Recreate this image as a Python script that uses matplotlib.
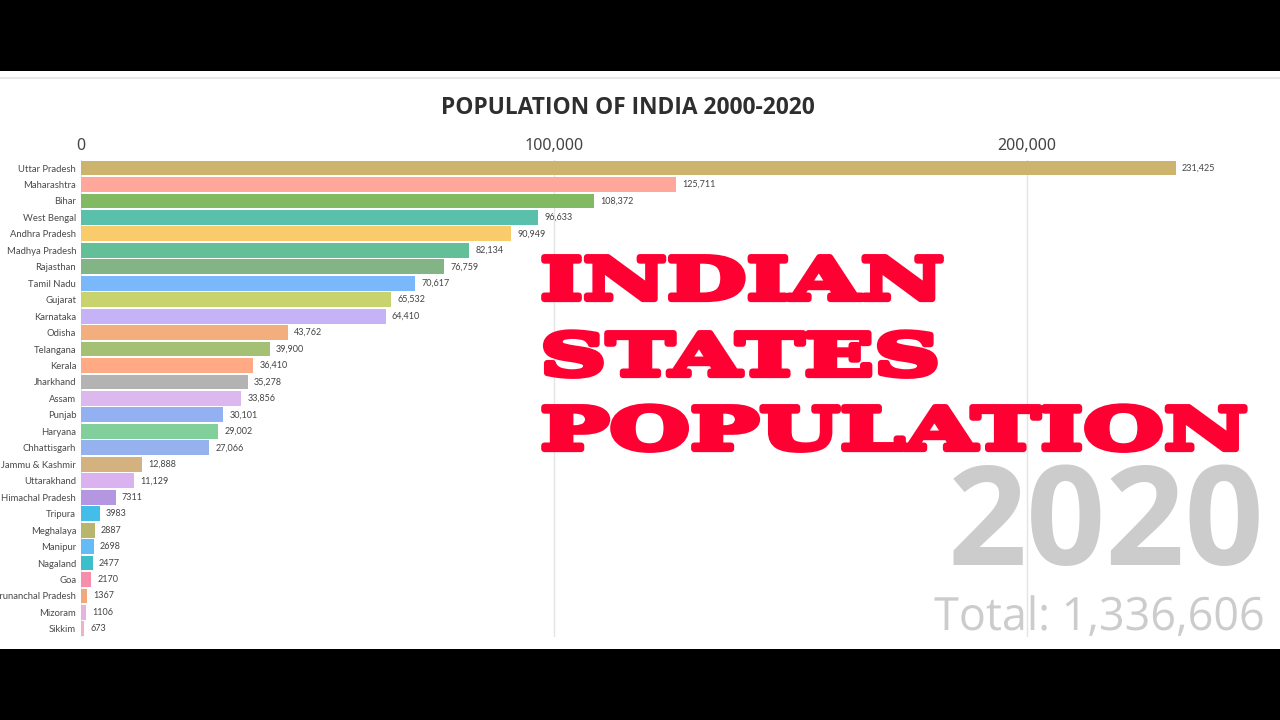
import matplotlib
matplotlib.use("Agg")
import matplotlib.pyplot as plt
import matplotlib.patheffects as pe
from matplotlib.transforms import Affine2D

states = [
    "Uttar Pradesh", "Maharashtra", "Bihar", "West Bengal", "Andhra Pradesh",
    "Madhya Pradesh", "Rajasthan", "Tamil Nadu", "Gujarat", "Karnataka",
    "Odisha", "Telangana", "Kerala", "Jharkhand", "Assam",
    "Punjab", "Haryana", "Chhattisgarh", "Jammu & Kashmir", "Uttarakhand",
    "Himachal Pradesh", "Tripura", "Meghalaya", "Manipur", "Nagaland",
    "Goa", "Arunanchal Pradesh", "Mizoram", "Sikkim",
]
population = [
    231425, 125711, 108372, 96633, 90949,
    82134, 76759, 70617, 65532, 64410,
    43762, 39900, 36410, 35278, 33856,
    30101, 29002, 27066, 12888, 11129,
    7311, 3983, 2887, 2698, 2477,
    2170, 1367, 1106, 673,
]
colors = [
    "#cdb46e", "#ffa79b", "#82ba63", "#58c0ab", "#f9cb6b",
    "#62bf98", "#83b485", "#7bb8fb", "#c9d36e", "#c6b2f6",
    "#f2ae7c", "#a3c074", "#ffa985", "#b3b3b3", "#dcb8ef",
    "#93b1f2", "#81d09c", "#96b2ee", "#d4b280", "#d9b2ef",
    "#b497e0", "#43bee8", "#b8b56c", "#64bcf6", "#3cbfca",
    "#f78fac", "#f3a77c", "#e6b3e0", "#efb0c9",
]
ticks = [0, 100000, 200000]
tick_labels = ["0", "100,000", "200,000"]


class Stretch(pe.AbstractPathEffect):
    # widens drawn text around x0 (pixels), optionally with an outline
    def __init__(self, sx, x0, stroke=0, color=None):
        super().__init__()
        self.sx, self.x0, self.stroke, self.color = sx, x0, stroke, color

    def draw_path(self, renderer, gc, tpath, affine, rgbFace=None):
        tr = affine + Affine2D().translate(-self.x0, 0).scale(self.sx, 1).translate(self.x0, 0)
        if self.stroke:
            gc0 = renderer.new_gc()
            gc0.copy_properties(gc)
            gc0.set_linewidth(self.stroke)
            gc0.set_foreground(self.color)
            renderer.draw_path(gc0, tpath, tr, rgbFace)
            gc0.restore()
        else:
            renderer.draw_path(gc, tpath, tr, rgbFace)


W, H = 1280, 720
fig = plt.figure(figsize=(W / 100, H / 100), dpi=100, facecolor="black")

# white page between the black bands
page = fig.add_axes([0, 1 - 649 / H, 1, (649 - 71) / H], facecolor="white")
page.set_xticks([])
page.set_yticks([])
for s in page.spines.values():
    s.set_visible(False)
page.axhline(1 - 7 / 578, color="#e8e8e8", lw=1.4)

# plot axes, pixel box: x 81..1280, y 160..637
ax = fig.add_axes([81 / W, 1 - 637 / H, (W - 81) / W, (637 - 160) / H])
ax.patch.set_alpha(0)
ax.set_xlim(0, (W - 81) / 4.73 * 1000)
pitch = 16.46
ax.set_ylim((637 - 168) / pitch, -(168 - 160) / pitch)
ax.barh(range(len(states)), population, height=0.9, color=colors, zorder=2)
ax.set_yticks(range(len(states)))
ax.set_yticklabels(states, fontsize=6.8, color="#4a4a4a", family="Lato")
ax.tick_params(axis="y", length=0, pad=3.5)
ax.xaxis.tick_top()
ax.set_xticks(ticks)
ax.set_xticklabels(tick_labels, fontsize=11.5, color="#444444", family="Noto Sans")
ax.tick_params(axis="x", length=0, pad=4.5)
ax.grid(axis="x", color="#e4e4e4", lw=1, zorder=1)
for s in ax.spines.values():
    s.set_visible(False)

for i, v in enumerate(population):
    label = f"{v:,}" if v >= 10000 else str(v)
    ax.annotate(label, (v, i), xytext=(4.5, 0), textcoords="offset points",
                va="center", ha="left", fontsize=6.5, color="#444444", family="Lato")

fig.text(628 / W, 1 - 108 / H, "POPULATION OF INDIA 2000-2020", ha="center", va="center",
         fontsize=16.4, fontweight="bold", color="#2e2e2e", family="Open Sans")

# overlaid headline
red = "#ff0033"
for txt, y, sx in [("INDIAN", 299, 1.6), ("STATES", 375, 1.6), ("POPULATION", 449, 1.61)]:
    fig.text(540 / W, 1 - y / H, txt, ha="left", va="baseline", fontsize=41.3,
             fontweight="bold", family="DejaVu Serif", color=red,
             path_effects=[Stretch(sx, 540, 4.5, red)])

fig.text(1265 / W, 1 - 565 / H, "2020", ha="right", va="baseline", fontsize=100,
         fontweight="bold", color="#cccccc", family="Open Sans")
fig.text(1265 / W, 1 - 630 / H, "Total: 1,336,606", ha="right", va="baseline", fontsize=33,
         color="#cccccc", family="Open Sans", path_effects=[Stretch(0.98, 1265)])

fig.savefig("out.png", dpi=100, facecolor="black")
